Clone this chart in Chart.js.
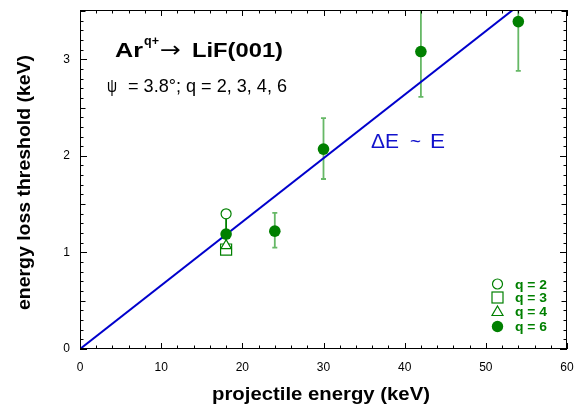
<!DOCTYPE html>
<html>
<head>
<meta charset="utf-8">
<script src="https://cdn.jsdelivr.net/npm/chart.js@4.4.1/dist/chart.umd.min.js"></script>
<style>
  html, body { margin: 0; padding: 0; background: #fff; }
  #wrap { width: 583px; height: 411px; }
</style>
</head>
<body>
<div id="wrap"><canvas id="myChart" width="583" height="411"></canvas></div>
<script>
// q = 6 (filled circles) with error bars
let q6Energy = [18, 24, 30, 42, 54];
let q6Value = [1.19, 1.22, 2.07, 3.08, 3.39];
let q6Low = [1.07, 1.05, 1.76, 2.61, 2.88];
let q6High = [1.40, 1.41, 2.39, 3.60, 3.60];

// other charge states, all at 18 keV
let q2Energy = [18], q2Value = [1.40];
let q3Energy = [18], q3Value = [1.03];
let q4Energy = [18], q4Value = [1.07];

// dE ~ E line
let lineEnergy = [0, 60];
let lineValue = [0, 3.95];

let legendLabels = ["q = 2", "q = 3", "q = 4", "q = 6"];

const green = "#008000";
const font = "'Liberation Sans', Arial, Helvetica, sans-serif";

function pts(xs, ys) {
    return xs.map((x, i) => ({ x: x, y: ys[i] }));
}

// draw text squeezed/stretched to a given width
function fitText(ctx, text, x, y, width) {
    const w = ctx.measureText(text).width;
    ctx.save();
    ctx.translate(x, y);
    ctx.scale(width / w, 1);
    ctx.fillText(text, 0, 0);
    ctx.restore();
}

// error bars, inward ticks, frame and texts
const decor = {
    id: "decor",
    beforeDatasetsDraw(chart) {
        const ctx = chart.ctx, xs = chart.scales.x, ys = chart.scales.y;
        const area = chart.chartArea;
        ctx.save();
        ctx.beginPath();
        ctx.rect(area.left, area.top, area.right - area.left, area.bottom - area.top);
        ctx.clip();
        q6Energy.forEach((e, i) => {
            const px = xs.getPixelForValue(e);
            const top = ys.getPixelForValue(q6High[i]);
            const bot = ys.getPixelForValue(q6Low[i]);
            ctx.strokeStyle = i === 0 ? green : "#66b866";
            ctx.lineWidth = 1.8;
            ctx.beginPath();
            ctx.moveTo(px, top); ctx.lineTo(px, bot);
            ctx.moveTo(px - 2.5, top); ctx.lineTo(px + 2.5, top);
            ctx.moveTo(px - 2.5, bot); ctx.lineTo(px + 2.5, bot);
            ctx.stroke();
        });
        ctx.restore();
    },
    afterDraw(chart) {
        const ctx = chart.ctx, xs = chart.scales.x, ys = chart.scales.y;
        const a = chart.chartArea;
        ctx.save();
        ctx.strokeStyle = "#000";
        ctx.lineWidth = 1;
        ctx.strokeRect(Math.round(a.left) + 0.5, Math.round(a.top) + 0.5, Math.round(a.right - a.left) - 1, Math.round(a.bottom - a.top) - 1);
        ctx.beginPath();
        for (let v = 0; v <= 60.001; v += 2) {
            const len = Math.abs(v % 10) < 0.01 ? 6 : 3.5;
            const px = Math.round(xs.getPixelForValue(v)) + 0.5;
            ctx.moveTo(px, a.bottom); ctx.lineTo(px, a.bottom - len);
            ctx.moveTo(px, a.top); ctx.lineTo(px, a.top + len);
        }
        for (let i = 0; i <= 35; i++) {
            const len = i % 10 === 0 ? 7 : (i % 5 === 0 ? 5.5 : 3.5);
            const py = Math.round(ys.getPixelForValue(i * 0.1)) + 0.5;
            ctx.moveTo(a.left, py); ctx.lineTo(a.left + len, py);
            ctx.moveTo(a.right, py); ctx.lineTo(a.right - len, py);
        }
        ctx.stroke();

        // axis titles
        ctx.fillStyle = "#000";
        ctx.textBaseline = "alphabetic";
        ctx.textAlign = "left";
        ctx.font = "bold 19px " + font;
        fitText(ctx, "projectile energy (keV)", 212, 400, 218);
        ctx.save();
        ctx.translate(30, 310);
        ctx.rotate(-Math.PI / 2);
        fitText(ctx, "energy loss threshold (keV)", 0, 0, 255);
        ctx.restore();

        // title texts
        ctx.font = "bold 20px " + font;
        fitText(ctx, "Ar", 115, 57, 28);
        ctx.font = "bold 13px " + font;
        fitText(ctx, "q+", 144, 45, 15);
        ctx.font = "22px 'DejaVu Sans', sans-serif";
        fitText(ctx, "\u2192", 160, 57, 21);
        ctx.font = "bold 20px " + font;
        fitText(ctx, "LiF(001)", 192, 57, 91);

        ctx.font = "19px " + font;
        fitText(ctx, "\u03C8", 107, 92, 10);
        fitText(ctx, "= 3.8\u00B0; q = 2, 3, 4, 6", 128, 92, 159);

        ctx.fillStyle = "#1212cc";
        ctx.font = "21px " + font;
        fitText(ctx, "\u0394E", 371, 148, 28);
        fitText(ctx, "~", 410, 148, 11);
        fitText(ctx, "E", 430, 148, 15);

        // legend
        const lx = 497.5, ly = [284, 297.5, 311.5, 326.5];
        ctx.fillStyle = green;
        ctx.font = "bold 12px " + font;
        legendLabels.forEach((t, i) => fitText(ctx, t, 515, ly[i] + 4.5, 32));
        ctx.strokeStyle = green;
        ctx.lineWidth = 1.2;
        ctx.beginPath(); ctx.arc(lx, ly[0], 5, 0, Math.PI * 2); ctx.stroke();
        ctx.strokeRect(lx - 5.5, ly[1] - 5.5, 11, 11);
        ctx.beginPath();
        ctx.moveTo(lx, ly[2] - 5.5); ctx.lineTo(lx + 5.5, ly[2] + 4); ctx.lineTo(lx - 5.5, ly[2] + 4); ctx.closePath();
        ctx.stroke();
        ctx.beginPath(); ctx.arc(lx, ly[3], 5.7, 0, Math.PI * 2); ctx.fill();
        ctx.restore();
    }
};

let config = {
    type: "scatter",
    data: {
        datasets: [
            {
                label: "dE ~ E",
                type: "line",
                data: pts(lineEnergy, lineValue),
                borderColor: "#0000cc",
                borderWidth: 2,
                pointRadius: 0,
                fill: false,
                order: 10
            },
            {
                label: "q = 3",
                data: pts(q3Energy, q3Value),
                pointStyle: "rect",
                pointRadius: 7.8,
                backgroundColor: "#fff",
                borderColor: green,
                borderWidth: 1.2,
                order: 4
            },
            {
                label: "q = 4",
                data: pts(q4Energy, q4Value),
                pointStyle: "triangle",
                pointRadius: 6,
                backgroundColor: "#fff",
                borderColor: green,
                borderWidth: 1.2,
                order: 3
            },
            {
                label: "q = 2",
                data: pts(q2Energy, q2Value),
                pointStyle: "circle",
                pointRadius: 5,
                backgroundColor: "#fff",
                borderColor: green,
                borderWidth: 1.2,
                order: 2
            },
            {
                label: "q = 6",
                data: pts(q6Energy, q6Value),
                pointStyle: "circle",
                pointRadius: 5.8,
                backgroundColor: green,
                borderColor: green,
                borderWidth: 0,
                order: 1
            }
        ]
    },
    options: {
        responsive: false,
        animation: false,
        layout: { padding: { top: 10, right: 16, left: 0, bottom: 0 } },
        plugins: {
            legend: { display: false },
            tooltip: { enabled: false }
        },
        scales: {
            x: {
                type: "linear",
                min: 0,
                max: 60,
                grid: { display: false },
                border: { display: false },
                ticks: { stepSize: 10, color: "#000", font: { family: font, size: 12 }, padding: 3 },
                afterFit: s => { s.height = 62; }
            },
            y: {
                type: "linear",
                min: 0,
                max: 3.51,
                grid: { display: false },
                border: { display: false },
                ticks: { stepSize: 1, color: "#000", font: { family: font, size: 12 }, padding: 2,
                    callback: v => Number.isInteger(v) ? v : "" },
                afterFit: s => { s.width = 80; }
            }
        }
    },
    plugins: [decor]
};

let ctx = document.getElementById("myChart").getContext("2d");
let myChart = new Chart(ctx, config);
</script>
</body>
</html>
